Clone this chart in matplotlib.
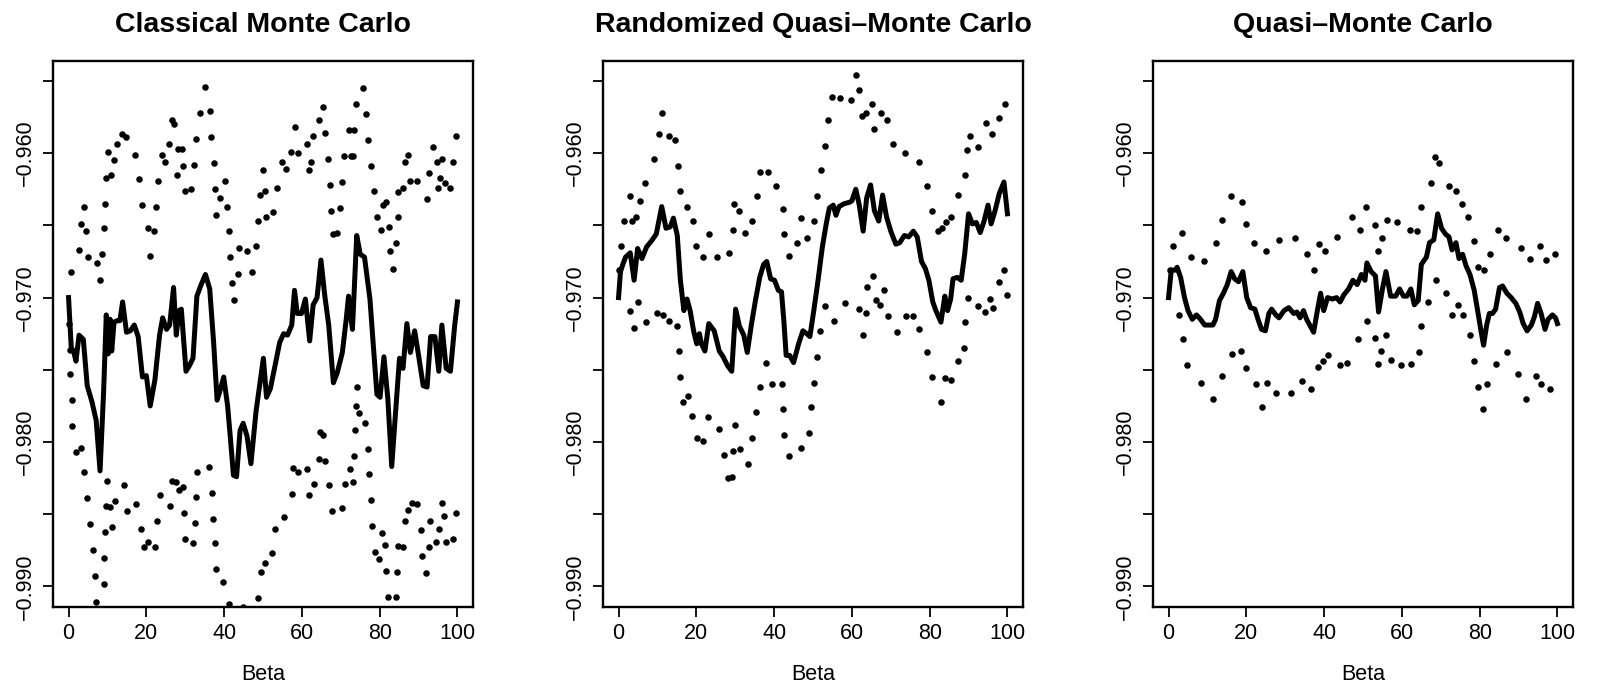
import matplotlib
matplotlib.use("Agg")
import matplotlib.pyplot as plt

plt.rcParams['font.family'] = ['Liberation Sans', 'DejaVu Sans']

# Classical Monte Carlo
mc_line_beta = [0, 0.7, 1.3, 1.9, 2.7, 3.8, 4.8, 6.0, 7.1, 8.1, 9.0, 9.7, 10.2, 10.7, 11.1, 11.7, 12.5, 13.2,
                13.9, 14.9, 15.9, 16.9, 17.9, 19.0, 20.0, 21.0, 22.2, 23.4, 24.2, 25.2, 26.0, 27.0, 27.7, 28.4,
                29.0, 29.5, 30.2, 31.1, 32.0, 33.0, 34.1, 35.2, 36.3, 37.3, 38.2, 39.1, 39.9, 40.9, 41.7, 42.4,
                43.2, 44.1, 44.9, 45.9, 46.9, 48.2, 50.1, 50.9, 51.9, 53.1, 54.3, 55.3, 56.3, 57.4, 58.1, 58.8,
                59.9, 60.9, 62.0, 62.9, 63.9, 64.9, 65.9, 66.9, 68.1, 69.1, 70.4, 71.4, 72.0, 72.6, 73.0, 74.1,
                75.0, 76.1, 77.5, 78.5, 79.3, 80.1, 81.1, 82.1, 83.1, 84.1, 85.1, 86.0, 87.0, 87.9, 89.0, 90.0,
                91.2, 92.2, 93.1, 94.2, 95.2, 96.0, 97.1, 98.2, 99.3, 100]
mc_line_val = [-0.9700, -0.9735, -0.9737, -0.9744, -0.9726, -0.9729, -0.9761, -0.9772, -0.9785, -0.9820,
               -0.9766, -0.9712, -0.9739, -0.9715, -0.9737, -0.9717, -0.9716, -0.9716, -0.9703, -0.9724,
               -0.9723, -0.9719, -0.9727, -0.9755, -0.9754, -0.9775, -0.9757, -0.9726, -0.9714, -0.9722,
               -0.9719, -0.9693, -0.9726, -0.9709, -0.9708, -0.9726, -0.9751, -0.9747, -0.9742, -0.9699,
               -0.9691, -0.9684, -0.9694, -0.9731, -0.9771, -0.9763, -0.9755, -0.9775, -0.9800, -0.9823,
               -0.9824, -0.9792, -0.9787, -0.9796, -0.9815, -0.9779, -0.9742, -0.9769, -0.9763, -0.9747,
               -0.9731, -0.9725, -0.9726, -0.9719, -0.9695, -0.9711, -0.9711, -0.9701, -0.9730, -0.9705,
               -0.9700, -0.9674, -0.9699, -0.9719, -0.9759, -0.9752, -0.9738, -0.9715, -0.9699, -0.9714,
               -0.9722, -0.9657, -0.9670, -0.9672, -0.9701, -0.9738, -0.9767, -0.9769, -0.9741, -0.9770,
               -0.9817, -0.9779, -0.9742, -0.9749, -0.9718, -0.9738, -0.9723, -0.9740, -0.9761, -0.9762,
               -0.9727, -0.9727, -0.9751, -0.9719, -0.9749, -0.9751, -0.9719, -0.9703]
mc_upper_beta = [0.7, 2.6, 3.1, 4.0, 4.6, 5.1, 7.2, 8.2, 8.7, 9.0, 9.4, 9.7, 10.2, 10.9, 11.6, 12.5, 13.7, 14.8,
                 17.2, 18.2, 19.0, 20.5, 21.0, 21.9, 22.4, 22.9, 23.9, 24.8, 25.8, 26.7, 27.1, 27.9, 28.1, 29.2,
                 29.5, 29.9, 31.4, 32.2, 32.7, 33.9, 35.0, 36.3, 36.7, 37.3, 37.6, 38.0, 39.0, 40.1, 40.7, 41.2,
                 41.5, 41.9, 42.6, 43.5, 43.9, 46.0, 47.2, 48.2, 48.8, 49.2, 50.0, 50.6, 50.8, 52.6, 53.7, 54.8,
                 55.8, 57.2, 58.1, 59.1, 61.2, 61.8, 62.4, 62.9, 64.3, 65.3, 65.9, 66.8, 67.2, 67.5, 67.9, 68.9,
                 69.9, 70.4, 70.8, 72.1, 72.7, 73.2, 73.5, 73.9, 75.8, 76.5, 77.0, 77.8, 78.6, 79.2, 80.3, 80.8,
                 81.7, 82.3, 82.7, 83.3, 84.3, 84.6, 84.8, 85.9, 86.6, 87.3, 87.9, 89.5, 92.1, 92.7, 93.7, 94.7,
                 94.9, 95.6, 96.1, 96.8, 98.1, 98.9, 99.5]
mc_upper_val = [-0.9682, -0.9667, -0.9649, -0.9637, -0.9654, -0.9672, -0.9676, -0.9688, -0.9670, -0.9652,
                -0.9635, -0.9617, -0.9599, -0.9615, -0.9605, -0.9594, -0.9587, -0.9589, -0.9601, -0.9618,
                -0.9636, -0.9652, -0.9671, -0.9654, -0.9637, -0.9619, -0.9601, -0.9606, -0.9594, -0.9577,
                -0.9580, -0.9615, -0.9597, -0.9597, -0.9609, -0.9626, -0.9625, -0.9608, -0.9590, -0.9572,
                -0.9554, -0.9571, -0.9589, -0.9607, -0.9625, -0.9643, -0.9631, -0.9619, -0.9637, -0.9654,
                -0.9672, -0.9690, -0.9702, -0.9684, -0.9666, -0.9668, -0.9682, -0.9664, -0.9647, -0.9629,
                -0.9612, -0.9626, -0.9644, -0.9641, -0.9624, -0.9606, -0.9611, -0.9599, -0.9582, -0.9600,
                -0.9594, -0.9612, -0.9606, -0.9588, -0.9577, -0.9568, -0.9586, -0.9604, -0.9622, -0.9640,
                -0.9656, -0.9655, -0.9638, -0.9620, -0.9602, -0.9584, -0.9602, -0.9602, -0.9584, -0.9566,
                -0.9555, -0.9573, -0.9591, -0.9609, -0.9626, -0.9644, -0.9653, -0.9636, -0.9634, -0.9651,
                -0.9668, -0.9680, -0.9662, -0.9644, -0.9627, -0.9624, -0.9606, -0.9601, -0.9619, -0.9619,
                -0.9632, -0.9614, -0.9596, -0.9606, -0.9624, -0.9617, -0.9604, -0.9621, -0.9624, -0.9606,
                -0.9588]
mc_lower_beta = [0.0, 0.3, 0.4, 0.9, 1.0, 1.9, 3.2, 4.0, 4.7, 5.4, 6.3, 6.8, 7.1, 9.0, 9.0, 9.4, 9.7, 10.0,
                 10.6, 11.1, 12.0, 14.2, 14.9, 17.4, 18.7, 19.4, 20.5, 22.2, 22.8, 23.6, 26.0, 26.7, 27.6, 28.3,
                 29.3, 29.6, 30.0, 31.9, 32.5, 32.8, 33.0, 36.2, 36.9, 37.2, 37.6, 37.9, 39.7, 41.2, 44.9, 48.7,
                 49.6, 50.6, 52.4, 53.2, 55.3, 57.4, 57.8, 59.1, 61.3, 61.8, 63.0, 64.3, 64.7, 65.5, 65.9, 66.9,
                 67.7, 70.2, 71.1, 72.3, 73.2, 73.4, 73.6, 73.9, 74.2, 74.7, 76.1, 77.1, 77.3, 77.7, 77.9, 78.7,
                 79.8, 80.7, 81.4, 81.7, 82.1, 84.2, 84.5, 84.7, 86.0, 86.6, 87.3, 88.4, 89.5, 90.5, 90.8, 92.0,
                 92.6, 92.9, 94.6, 95.3, 96.0, 96.5, 97.1, 98.8, 99.5]
mc_lower_val = [-0.9718, -0.9736, -0.9753, -0.9771, -0.9789, -0.9807, -0.9804, -0.9821, -0.9839, -0.9857,
                -0.9875, -0.9893, -0.9911, -0.9880, -0.9898, -0.9862, -0.9844, -0.9827, -0.9845, -0.9859,
                -0.9841, -0.9830, -0.9848, -0.9843, -0.9860, -0.9873, -0.9869, -0.9873, -0.9855, -0.9837,
                -0.9844, -0.9827, -0.9828, -0.9833, -0.9831, -0.9849, -0.9867, -0.9870, -0.9856, -0.9838,
                -0.9821, -0.9817, -0.9835, -0.9853, -0.9870, -0.9888, -0.9897, -0.9912, -0.9914, -0.9908,
                -0.9890, -0.9884, -0.9877, -0.9860, -0.9852, -0.9836, -0.9818, -0.9821, -0.9819, -0.9837,
                -0.9829, -0.9812, -0.9793, -0.9795, -0.9813, -0.9830, -0.9848, -0.9846, -0.9829, -0.9819,
                -0.9828, -0.9810, -0.9792, -0.9775, -0.9762, -0.9780, -0.9787, -0.9805, -0.9822, -0.9840,
                -0.9858, -0.9876, -0.9881, -0.9863, -0.9871, -0.9889, -0.9907, -0.9907, -0.9890, -0.9872,
                -0.9873, -0.9855, -0.9847, -0.9842, -0.9843, -0.9861, -0.9879, -0.9891, -0.9873, -0.9855,
                -0.9869, -0.9860, -0.9842, -0.9851, -0.9869, -0.9867, -0.9849]

# Randomized quasi-Monte Carlo
rqmc_line_beta = [0, 0.5, 1.1, 1.8, 3.0, 4.0, 4.9, 6.0, 7.2, 8.4, 9.7, 11.1, 12.2, 13.3, 14.1, 15.1, 15.9, 16.8,
                  17.6, 18.4, 19.3, 20.1, 20.8, 21.3, 22.2, 23.2, 24.6, 25.9, 26.9, 28.0, 29.1, 30.1, 31.1, 32.2,
                  33.1, 34.2, 35.2, 36.3, 37.3, 38.1, 39.1, 40.1, 41.1, 41.9, 42.5, 43.1, 44.0, 45.0, 46.3, 47.4,
                  48.4, 49.2, 50.2, 51.3, 52.4, 53.4, 54.2, 55.2, 55.9, 56.7, 58.0, 59.4, 60.0, 61.0, 61.9, 62.9,
                  63.8, 64.8, 65.8, 66.9, 67.9, 68.9, 70.0, 71.3, 72.3, 73.5, 74.6, 75.8, 76.8, 77.9, 78.9, 79.8,
                  80.8, 81.6, 82.9, 83.9, 84.6, 85.4, 86.0, 87.1, 88.1, 89.0, 90.0, 91.0, 92.0, 93.0, 94.0, 95.0,
                  95.8, 96.8, 97.9, 99.1, 100]
rqmc_line_val = [-0.9700, -0.9682, -0.9677, -0.9672, -0.9669, -0.9688, -0.9666, -0.9673, -0.9665, -0.9661,
                 -0.9656, -0.9637, -0.9652, -0.9651, -0.9645, -0.9657, -0.9688, -0.9709, -0.9701, -0.9709,
                 -0.9723, -0.9732, -0.9725, -0.9732, -0.9737, -0.9718, -0.9723, -0.9737, -0.9741, -0.9747,
                 -0.9751, -0.9708, -0.9720, -0.9726, -0.9738, -0.9718, -0.9702, -0.9686, -0.9677, -0.9675,
                 -0.9687, -0.9688, -0.9695, -0.9696, -0.9716, -0.9740, -0.9740, -0.9745, -0.9732, -0.9723,
                 -0.9725, -0.9727, -0.9709, -0.9688, -0.9665, -0.9649, -0.9638, -0.9636, -0.9643, -0.9637,
                 -0.9635, -0.9634, -0.9633, -0.9625, -0.9636, -0.9654, -0.9631, -0.9622, -0.9640, -0.9647,
                 -0.9629, -0.9644, -0.9654, -0.9663, -0.9662, -0.9657, -0.9658, -0.9654, -0.9658, -0.9675,
                 -0.9680, -0.9688, -0.9703, -0.9709, -0.9717, -0.9699, -0.9709, -0.9701, -0.9687, -0.9686,
                 -0.9688, -0.9670, -0.9642, -0.9649, -0.9648, -0.9655, -0.9647, -0.9636, -0.9649, -0.9640,
                 -0.9628, -0.9620, -0.9642]
rqmc_upper_beta = [0, 0.6, 1.4, 2.9, 3.5, 4.6, 5.5, 6.9, 9.1, 10.5, 11.1, 13.0, 14.6, 15.3, 15.9, 17.5, 19.2,
                   19.9, 21.8, 23.2, 25.3, 28.5, 29.4, 29.8, 31.0, 32.6, 34.4, 35.5, 36.4, 38.5, 40.6, 42.4, 42.6,
                   43.9, 46.0, 46.9, 48.4, 50.2, 51.1, 52.0, 53.1, 53.9, 54.9, 56.9, 59.7, 61.0, 61.8, 62.6, 63.7,
                   65.2, 65.8, 67.6, 69.0, 70.5, 73.6, 77.2, 79.2, 80.6, 82.1, 83.1, 84.2, 85.5, 87.3, 89.1, 89.6,
                   90.4, 92.5, 94.6, 95.9, 97.8, 99.3]
rqmc_upper_val = [-0.9681, -0.9664, -0.9647, -0.9630, -0.9647, -0.9644, -0.9633, -0.9621, -0.9604, -0.9587,
                  -0.9572, -0.9588, -0.9591, -0.9609, -0.9626, -0.9637, -0.9647, -0.9664, -0.9672, -0.9656,
                  -0.9672, -0.9669, -0.9653, -0.9635, -0.9640, -0.9655, -0.9647, -0.9630, -0.9613, -0.9613,
                  -0.9623, -0.9639, -0.9656, -0.9671, -0.9662, -0.9645, -0.9659, -0.9647, -0.9630, -0.9612,
                  -0.9595, -0.9577, -0.9561, -0.9562, -0.9563, -0.9546, -0.9556, -0.9574, -0.9572, -0.9566,
                  -0.9583, -0.9572, -0.9577, -0.9594, -0.9600, -0.9606, -0.9623, -0.9640, -0.9654, -0.9652,
                  -0.9648, -0.9644, -0.9629, -0.9615, -0.9598, -0.9588, -0.9596, -0.9579, -0.9587, -0.9576,
                  -0.9566]
rqmc_lower_beta = [2.9, 4.0, 5.0, 7.1, 10.0, 11.3, 13.0, 14.9, 15.5, 15.9, 16.6, 17.9, 19.0, 20.1, 21.8, 22.9,
                   25.7, 27.0, 28.1, 29.2, 29.5, 30.0, 31.3, 33.2, 34.2, 35.3, 36.3, 37.9, 39.4, 42.0, 42.3, 42.6,
                   43.7, 46.8, 48.9, 49.5, 50.2, 51.1, 51.7, 53.0, 55.5, 58.1, 61.7, 62.9, 63.5, 64.0, 65.5, 66.3,
                   67.3, 68.2, 69.4, 71.5, 74.0, 75.7, 77.3, 79.2, 80.5, 82.8, 83.9, 85.4, 87.3, 88.7, 89.2, 89.9,
                   92.4, 94.1, 95.5, 96.3, 97.8, 99.1, 99.8]
rqmc_lower_val = [-0.9709, -0.9721, -0.9703, -0.9717, -0.9711, -0.9712, -0.9716, -0.9720, -0.9737, -0.9755,
                  -0.9772, -0.9768, -0.9782, -0.9797, -0.9799, -0.9783, -0.9791, -0.9809, -0.9825, -0.9824,
                  -0.9806, -0.9788, -0.9805, -0.9815, -0.9797, -0.9779, -0.9762, -0.9745, -0.9760, -0.9760,
                  -0.9777, -0.9795, -0.9810, -0.9804, -0.9794, -0.9776, -0.9759, -0.9741, -0.9723, -0.9706,
                  -0.9716, -0.9704, -0.9708, -0.9726, -0.9711, -0.9693, -0.9685, -0.9702, -0.9705, -0.9695,
                  -0.9713, -0.9724, -0.9713, -0.9713, -0.9722, -0.9738, -0.9755, -0.9772, -0.9756, -0.9757,
                  -0.9744, -0.9735, -0.9717, -0.9700, -0.9706, -0.9710, -0.9701, -0.9707, -0.9689, -0.9681,
                  -0.9698]

# Quasi-Monte Carlo
qmc_line_beta = [0, 0.7, 1.7, 2.2, 3.1, 4.1, 5.0, 6.1, 7.2, 8.2, 9.3, 10.3, 11.4, 12.1, 13.1, 14.1, 15.1, 16.1,
                 17.0, 18.0, 19.1, 20.1, 21.1, 22.2, 23.0, 23.9, 24.9, 25.8, 26.5, 27.6, 28.4, 29.7, 30.9, 32.2,
                 33.0, 33.8, 34.7, 35.5, 36.3, 37.3, 38.2, 39.1, 39.9, 40.9, 42.1, 43.2, 44.1, 45.1, 46.3, 47.4,
                 48.5, 49.6, 50.5, 51.0, 52.1, 53.2, 54.0, 55.0, 55.9, 57.1, 58.4, 59.4, 60.4, 61.3, 62.3, 63.2,
                 64.2, 65.0, 66.3, 67.1, 68.2, 69.2, 70.2, 71.2, 72.1, 72.9, 73.9, 74.7, 75.6, 76.5, 77.5, 78.6,
                 79.6, 80.4, 81.0, 81.8, 82.5, 83.3, 84.1, 85.1, 85.9, 87.0, 88.1, 89.3, 90.3, 91.2, 92.2, 93.3,
                 94.1, 94.9, 95.8, 96.8, 97.6, 98.7, 99.5, 100]
qmc_line_val = [-0.9700, -0.9681, -0.9681, -0.9679, -0.9686, -0.9700, -0.9709, -0.9715, -0.9712, -0.9715,
                -0.9719, -0.9719, -0.9719, -0.9715, -0.9702, -0.9697, -0.9691, -0.9682, -0.9687, -0.9689,
                -0.9682, -0.9700, -0.9707, -0.9708, -0.9715, -0.9722, -0.9723, -0.9711, -0.9708, -0.9712,
                -0.9714, -0.9709, -0.9707, -0.9711, -0.9710, -0.9714, -0.9709, -0.9715, -0.9719, -0.9724,
                -0.9710, -0.9697, -0.9709, -0.9700, -0.9701, -0.9700, -0.9703, -0.9698, -0.9694, -0.9688,
                -0.9691, -0.9684, -0.9688, -0.9676, -0.9682, -0.9685, -0.9710, -0.9694, -0.9682, -0.9699,
                -0.9699, -0.9694, -0.9699, -0.9699, -0.9694, -0.9705, -0.9702, -0.9677, -0.9672, -0.9662,
                -0.9660, -0.9642, -0.9652, -0.9656, -0.9658, -0.9667, -0.9662, -0.9673, -0.9670, -0.9678,
                -0.9684, -0.9695, -0.9711, -0.9724, -0.9733, -0.9719, -0.9711, -0.9711, -0.9708, -0.9693,
                -0.9692, -0.9697, -0.9700, -0.9704, -0.9710, -0.9718, -0.9723, -0.9719, -0.9713, -0.9704,
                -0.9711, -0.9722, -0.9715, -0.9712, -0.9714, -0.9718]
qmc_upper_beta = [0.4, 1.1, 3.4, 5.8, 9.0, 12.1, 13.8, 16.0, 18.8, 19.8, 21.9, 25.0, 28.4, 32.5, 35.5, 37.3,
                  38.6, 40.3, 43.3, 47.2, 49.1, 50.8, 53.1, 53.8, 54.9, 56.2, 58.7, 62.1, 64.0, 64.9, 67.4, 68.5,
                  69.5, 72.0, 74.0, 75.4, 76.9, 78.6, 79.6, 81.2, 82.7, 84.6, 86.8, 90.5, 92.9, 95.4, 97.0, 99.4]
qmc_upper_val = [-0.9681, -0.9664, -0.9655, -0.9672, -0.9675, -0.9662, -0.9646, -0.9630, -0.9634, -0.9649,
                 -0.9662, -0.9668, -0.9660, -0.9659, -0.9670, -0.9681, -0.9663, -0.9668, -0.9658, -0.9644,
                 -0.9653, -0.9637, -0.9650, -0.9668, -0.9659, -0.9646, -0.9648, -0.9653, -0.9654, -0.9637,
                 -0.9621, -0.9603, -0.9607, -0.9623, -0.9626, -0.9635, -0.9644, -0.9661, -0.9679, -0.9681,
                 -0.9670, -0.9653, -0.9659, -0.9666, -0.9673, -0.9664, -0.9674, -0.9670]
qmc_lower_beta = [2.6, 3.7, 4.8, 8.3, 11.4, 13.8, 16.2, 18.7, 19.8, 22.4, 24.0, 25.4, 27.5, 31.6, 34.3, 36.7,
                  38.3, 39.6, 40.9, 44.1, 45.9, 48.8, 51.0, 53.1, 53.8, 54.6, 55.9, 57.1, 59.8, 62.4, 64.3, 64.9,
                  66.6, 68.7, 71.4, 72.9, 74.3, 75.7, 77.6, 78.6, 79.5, 80.9, 81.8, 84.3, 86.9, 89.9, 92.0, 94.4,
                  95.8, 98.2]
qmc_lower_val = [-0.9712, -0.9729, -0.9747, -0.9759, -0.9770, -0.9754, -0.9739, -0.9737, -0.9749, -0.9760,
                 -0.9776, -0.9759, -0.9766, -0.9766, -0.9758, -0.9763, -0.9748, -0.9744, -0.9740, -0.9747,
                 -0.9745, -0.9729, -0.9716, -0.9728, -0.9746, -0.9737, -0.9726, -0.9743, -0.9747, -0.9746,
                 -0.9738, -0.9720, -0.9703, -0.9688, -0.9697, -0.9712, -0.9705, -0.9712, -0.9726, -0.9744,
                 -0.9762, -0.9777, -0.9760, -0.9746, -0.9738, -0.9753, -0.9770, -0.9754, -0.9760, -0.9763]

titles = ["Classical Monte Carlo", "Randomized Quasi\u2013Monte Carlo", "Quasi\u2013Monte Carlo"]
y_ticks = [-0.955, -0.960, -0.965, -0.970, -0.975, -0.980, -0.985, -0.990]
y_tick_labels = ["", "\u22120.960", "", "\u22120.970", "", "\u22120.980", "", "\u22120.990"]
x_ticks = [0, 20, 40, 60, 80, 100]

panels = [
    (mc_line_beta, mc_line_val, mc_upper_beta, mc_upper_val, mc_lower_beta, mc_lower_val),
    (rqmc_line_beta, rqmc_line_val, rqmc_upper_beta, rqmc_upper_val, rqmc_lower_beta, rqmc_lower_val),
    (qmc_line_beta, qmc_line_val, qmc_upper_beta, qmc_upper_val, qmc_lower_beta, qmc_lower_val),
]

W, H = 1601, 684
fig = plt.figure(figsize=(W / 100, H / 100), dpi=100)
lefts = [53, 603, 1153]

for i, (lb, lv, ub, uv, wb, wv) in enumerate(panels):
    ax = fig.add_axes([lefts[i] / W, 77.3 / H, 420 / W, 546 / H])
    ax.plot(lb, lv, color="black", lw=3.6, solid_joinstyle="round", zorder=3)
    ax.plot(ub, uv, "o", color="black", ms=4.7, mew=0, zorder=2)
    ax.plot(wb, wv, "o", color="black", ms=4.7, mew=0, zorder=2)
    ax.set_xlim(-4, 104)
    ax.set_ylim(-0.9914, -0.9536)
    ax.set_xticks(x_ticks)
    ax.set_xticklabels([str(t) for t in x_ticks])
    ax.set_yticks(y_ticks)
    ax.set_yticklabels(y_tick_labels, rotation=90, va="center")
    ax.tick_params(direction="out", length=7.2, width=1.3, labelsize=15.5, color="black")
    ax.tick_params(axis="x", pad=4.5)
    ax.tick_params(axis="y", pad=5)
    for s in ax.spines.values():
        s.set_linewidth(1.7)
    cx = (lefts[i] + 210) / W
    fig.text(cx, 1 - 31.7 / H, titles[i], ha="center", va="baseline", fontsize=20.5, fontweight="bold")
    fig.text(cx, 1 - 679.5 / H, "Beta", ha="center", va="baseline", fontsize=15.5)

fig.savefig("out.png", dpi=100, facecolor="white")
